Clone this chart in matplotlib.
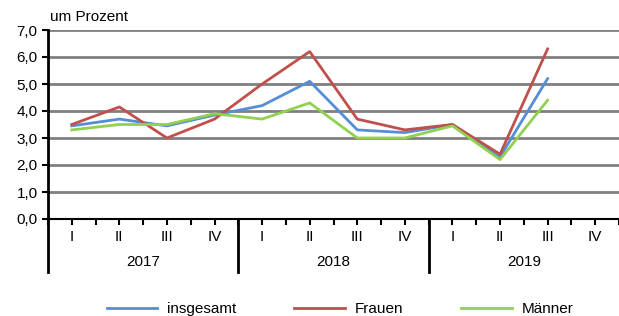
import matplotlib
matplotlib.use("Agg")
import matplotlib.pyplot as plt
import matplotlib.transforms as mtransforms

years = ["2017", "2018", "2019"]
quarters = ["I", "II", "III", "IV"]

insgesamt = [3.45, 3.7, 3.45, 3.85, 4.2, 5.1, 3.3, 3.2, 3.5, 2.3, 5.2]
frauen = [3.5, 4.15, 3.0, 3.7, 5.0, 6.2, 3.7, 3.3, 3.5, 2.4, 6.3]
maenner = [3.3, 3.5, 3.5, 3.9, 3.7, 4.3, 3.0, 3.0, 3.45, 2.2, 4.4]

plt.rcParams["font.family"] = ["Liberation Sans", "DejaVu Sans"]

fig = plt.figure(figsize=(6.19, 3.16), dpi=100)
ax = fig.add_axes([48 / 619, 97 / 316, 571 / 619, 189 / 316])

x = list(range(len(insgesamt)))
ax.plot(x, insgesamt, color="#558ED5", lw=2, label="insgesamt")
ax.plot(x, frauen, color="#C0504D", lw=2, label="Frauen")
ax.plot(x, maenner, color="#92D050", lw=2, label="Männer")

ax.set_ylim(0, 7)
ax.set_xlim(-0.5, 11.23)
ax.set_yticks(range(8))
ax.set_yticklabels([f"{v},0" for v in range(8)], fontsize=11)
ax.yaxis.grid(True, color="#808080", lw=2)
ax.set_axisbelow(True)
for s in ["top", "right"]:
    ax.spines[s].set_visible(False)
ax.spines["left"].set_linewidth(2)
ax.spines["bottom"].set_linewidth(1.5)
ax.spines["left"].set_bounds(0, 7)
ax.tick_params(axis="y", length=4, width=1.5)

# category ticks at centres and boundaries
n = len(years) * len(quarters)
ax.set_xticks([i * 0.5 - 0.5 for i in range(2 * n + 1)])
ax.set_xticklabels([])
ax.tick_params(axis="x", length=4, width=1.5, direction="out")

trans = mtransforms.blended_transform_factory(ax.transData, ax.transAxes)
for i in range(n):
    ax.text(i, -0.095, quarters[i % 4], transform=trans, ha="center",
            va="center", fontsize=11)
for j, yr in enumerate(years):
    ax.text(j * 4 + 1.5, -0.228, yr, transform=trans, ha="center",
            va="center", fontsize=11)
for b in [-0.5, 3.5, 7.5]:
    ax.plot([b, b], [0, -53 / 189], transform=trans, color="black",
            lw=2, clip_on=False)

fig.text(50 / 619, 1 - 17 / 316, "um Prozent", fontsize=11, va="center")

fig.legend(loc="center", bbox_to_anchor=(340 / 619, 1 - 309 / 316), ncol=3,
           frameon=False, fontsize=11, handlelength=3.3, handletextpad=0.65,
           columnspacing=3.8)

fig.savefig("out.png", dpi=100)
